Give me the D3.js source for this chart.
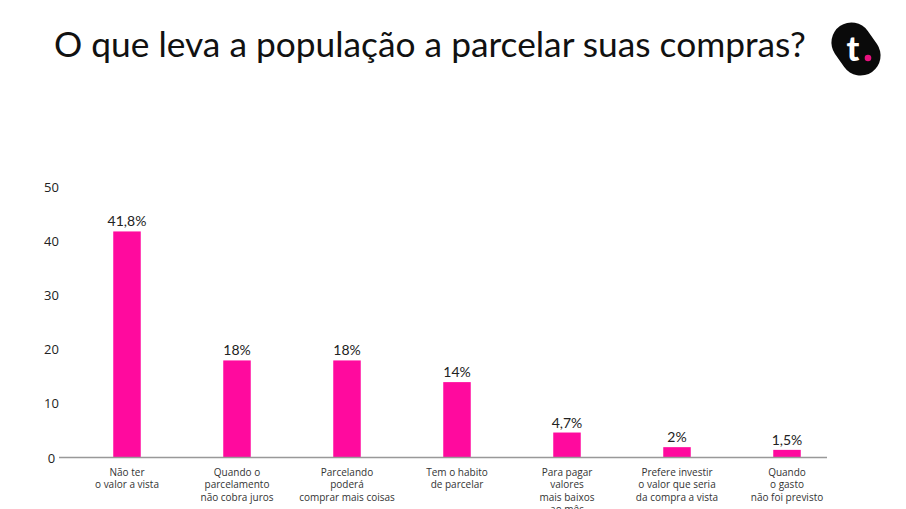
<!DOCTYPE html>
<html><head><meta charset="utf-8">
<script src="https://cdn.jsdelivr.net/npm/d3@7"></script>
<style>html,body{margin:0;padding:0;background:#fff;}svg{display:block;}</style>
</head><body>
<svg id="c" width="906" height="509"></svg>
<script>
const title = "O que leva a população a parcelar suas compras?";
const categories = [
  ["Não ter","o valor a vista"],
  ["Quando o","parcelamento","não cobra juros"],
  ["Parcelando","poderá","comprar mais coisas"],
  ["Tem o habito","de parcelar"],
  ["Para pagar","valores","mais baixos","ao mês"],
  ["Prefere investir","o valor que seria","da compra a vista"],
  ["Quando","o gasto","não foi previsto"]
];
const values = [41.8, 18, 18, 14, 4.7, 2, 1.5];
const valueLabels = ["41,8%","18%","18%","14%","4,7%","2%","1,5%"];
const yTicks = [0,10,20,30,40,50];

const svg = d3.select("#c");
const font = "Lato, 'Open Sans', sans-serif";
const font2 = "'Open Sans', Lato, sans-serif";
const pink = "#ff0a9e";

const x = d3.scaleBand().domain(d3.range(values.length)).range([72, 842]).paddingInner(0.75).paddingOuter(0.375);
const y = d3.scaleLinear().domain([0,50]).range([458,187]);

// title
const t = svg.append("text").attr("x",54).attr("y",57).attr("font-family",font)
  .attr("font-size",26).attr("fill","#111").text(title);
const tw = t.node().getComputedTextLength();
t.attr("font-size", 26*752/tw);

// logo
const logo = svg.append("g").attr("transform","translate(856,49)");
logo.append("rect").attr("x",-28).attr("y",-20).attr("width",56).attr("height",40).attr("rx",20)
  .attr("transform","rotate(55)").attr("fill","#0a0a0a");
logo.append("text").attr("x",-3).attr("y",12).attr("text-anchor","middle")
  .attr("font-family",font).attr("font-weight",900).attr("font-size",34).attr("fill","#fff").text("t");
logo.append("circle").attr("cx",12).attr("cy",9).attr("r",3.3).attr("fill","#e8127f");

// y labels
svg.append("g").selectAll("text").data(yTicks).join("text")
  .attr("x",51.5).attr("y",d=>y(d)).attr("dy","0.35em").attr("text-anchor","middle")
  .attr("font-family",font2).attr("font-size",13).attr("fill","#222").text(d=>d);

// bars
svg.append("g").selectAll("rect").data(values).join("rect")
  .attr("x",(d,i)=>x(i)).attr("width",x.bandwidth())
  .attr("y",d=>y(d)).attr("height",d=>y(0)-y(d)).attr("fill",pink);

// axis line
svg.append("line").attr("x1",59).attr("x2",827).attr("y1",y(0)-0.5).attr("y2",y(0)-0.5)
  .attr("stroke","#999").attr("stroke-width",1.5);

// value labels
svg.append("g").selectAll("text").data(values).join("text")
  .attr("x",(d,i)=>x(i)+x.bandwidth()/2).attr("y",d=>y(d)-5).attr("text-anchor","middle")
  .attr("font-family",font).attr("font-size",14).attr("fill","#222").text((d,i)=>valueLabels[i]);

// category labels
const cg = svg.append("g").selectAll("text").data(categories).join("text")
  .attr("x",(d,i)=>x(i)+x.bandwidth()/2).attr("y",476).attr("text-anchor","middle")
  .attr("font-family",font2).attr("font-size",10).attr("fill","#333");
cg.selectAll("tspan").data(d=>d).join("tspan")
  .attr("x",function(){return this.parentNode.getAttribute("x");})
  .attr("dy",(d,j)=>j===0?0:12.3).text(d=>d);
</script>
</body></html>
